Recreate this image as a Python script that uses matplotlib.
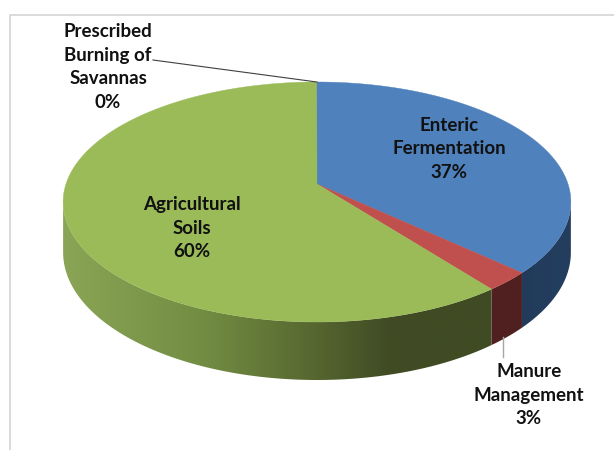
import numpy as np
import matplotlib
matplotlib.use('Agg')  # no display

import matplotlib.pyplot as plt
from matplotlib.patches import Polygon

labels = ["Enteric\nFermentation", "Manure\nManagement", "Agricultural\nSoils", "Prescribed\nBurning of\nSavannas"]
values = [36.9, 2.6, 60.48, 0.02]
top_colors = ["#4F81BD", "#C0504D", "#9BBB59", "#8064A2"]

# side wall colours, sampled left to right along the rim
side_x = [63, 200, 300, 390, 571]
side_stops = {
    0: [(30, 52, 82), (30, 52, 82), (30, 52, 82), (30, 52, 82), (36, 62, 95)],
    1: [(80, 32, 32), (80, 32, 32), (80, 32, 32), (80, 32, 32), (80, 32, 32)],
    2: [(138, 165, 85), (115, 142, 67), (90, 108, 50), (64, 75, 36), (64, 75, 36)],
    3: [(60, 45, 80), (60, 45, 80), (60, 45, 80), (60, 45, 80), (60, 45, 80)],
}

# label centres, in pixels
label_pos = [(449, 149), (529, 395), (192, 228), (108, 67)]

# pie projection, in pixels
cx, cy = 317, 184
bx, by = 251, 117.3
persp = 0.15
depth = 49.3


def project(theta, drop=0.0):
    # theta is clockwise from 12 o'clock, in degrees
    t = np.radians(theta)
    gx, gy = np.sin(t), np.cos(t)
    den = 1 + persp * gy
    return cx + bx * gx / den, cy - by * gy / den + drop * depth / den


fig = plt.figure(figsize=(6.14, 4.5), dpi=100)
ax = fig.add_axes([0, 0, 1, 1])
ax.set_xlim(0, 614)
ax.set_ylim(450, 0)
ax.axis("off")

# chart frame
ax.plot([9.5, 9.5, 614], [450, 14.5, 14.5], color="#d4d4d4", lw=1.2, zorder=1)

fracs = np.array(values) / sum(values) * 360
edges = np.concatenate([[0], np.cumsum(fracs)])

# the wall only shows between the two widest points of the rim
front_lo = np.degrees(np.arccos(-persp))
front_hi = 360 - front_lo

# side wall first: a horizontal gradient clipped to each slice's wall
grad_x = np.arange(0, 615)
for i in range(len(values)):
    a = max(edges[i], front_lo)
    b = min(edges[i + 1], front_hi)
    if a >= b:
        continue
    th = np.linspace(a, b, max(int(b - a), 2) + 1)
    x_top, y_top = project(th)
    x_low, y_low = project(th, 1)
    wall = np.c_[np.r_[x_top, x_low[::-1]], np.r_[y_top, y_low[::-1]]]
    grad = np.array([[np.interp(grad_x, side_x, [s[c] for s in side_stops[i]]) for c in range(3)]])
    grad = np.transpose(grad, (0, 2, 1)) / 255
    im = ax.imshow(grad, extent=[0, 614, 450, 0], aspect="auto", zorder=2, interpolation="bilinear")
    clip = Polygon(wall, closed=True, transform=ax.transData, fc="none", ec="none")
    ax.add_patch(clip)
    im.set_clip_path(clip)

ax.set_xlim(0, 614)
ax.set_ylim(450, 0)

for i in range(len(values)):
    th = np.linspace(edges[i], edges[i + 1], max(int(fracs[i]), 2) + 1)
    px, py = project(th)
    ax.fill(np.r_[cx, px], np.r_[cy, py], color=top_colors[i], lw=0.3 if fracs[i] > 1 else 0, zorder=3)

# leader lines
sx, sy = project((edges[3] + edges[4]) / 2)
ax.plot([153, sx], [60, sy], color="#404040", lw=0.8, zorder=4)
mx, my = project((edges[1] + edges[2]) / 2, 1)
ax.plot([503, 503], [my, 357], color="#a6a6a6", lw=1.0, zorder=4)

for i, name in enumerate(labels):
    ax.text(label_pos[i][0], label_pos[i][1], "%s\n%.0f%%" % (name, values[i]),
            ha="center", va="center", multialignment="center", family="Lato",
            weight="bold", fontsize=13.5, linespacing=1.46, color="#111111", zorder=5)

plt.savefig("out.png", dpi=100)
plt.close()
